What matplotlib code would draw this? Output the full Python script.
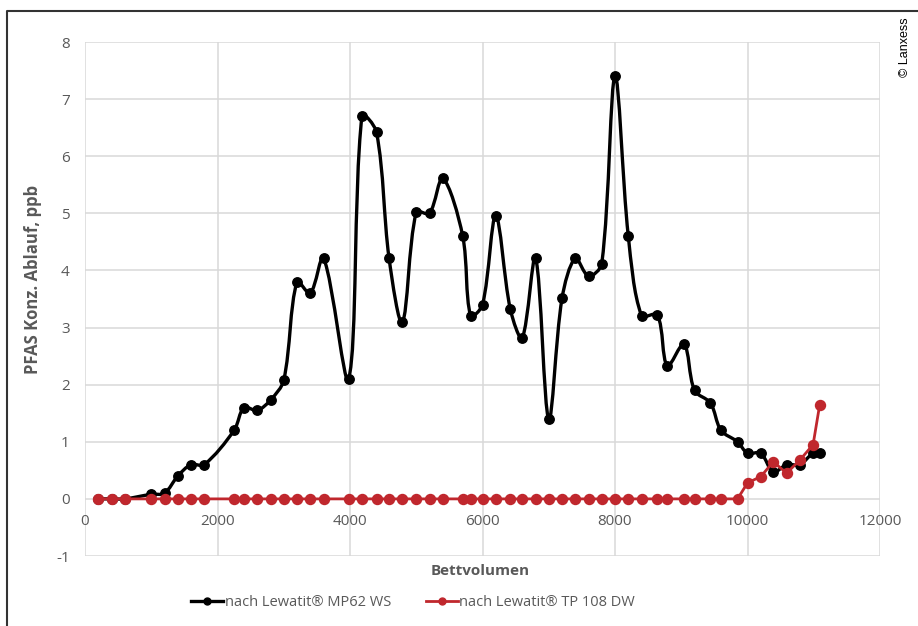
import numpy as np
import matplotlib.pyplot as plt
from matplotlib.path import Path
from matplotlib.patches import PathPatch
from matplotlib.lines import Line2D

# Bettvolumen (x) and PFAS concentrations (ppb)
bettvolumen = [200, 400, 600, 1000, 1200, 1400, 1600, 1800, 2250, 2400,
               2600, 2800, 3000, 3200, 3400, 3600, 3980, 4180, 4400, 4590,
               4790, 5000, 5200, 5400, 5700, 5820, 6000, 6200, 6420, 6600,
               6800, 7000, 7200, 7400, 7600, 7800, 8000, 8200, 8400, 8640,
               8790, 9040, 9200, 9440, 9600, 9850, 10000, 10200, 10390, 10590,
               10790, 10990, 11090]

mp62_ws = [0, 0, 0, 0.08, 0.1, 0.4, 0.6, 0.6, 1.2, 1.6,
           1.55, 1.73, 2.08, 3.8, 3.6, 4.22, 2.1, 6.7, 6.42, 4.21,
           3.09, 5.02, 5.0, 5.61, 4.61, 3.21, 3.4, 4.95, 3.32, 2.82,
           4.22, 1.4, 3.51, 4.21, 3.9, 4.12, 7.4, 4.61, 3.21, 3.22,
           2.33, 2.71, 1.9, 1.68, 1.2, 1.0, 0.8, 0.8, 0.47, 0.6,
           0.6, 0.8, 0.8]

tp108_dw = [0] * 46 + [0.28, 0.39, 0.65, 0.45, 0.68, 0.95, 1.65]

label_mp62 = "nach Lewatit\u00ae MP62 WS"
label_tp108 = "nach Lewatit\u00ae TP 108 DW"

black = "#000000"
red = "#c0272d"
grey_txt = "#595959"
grid_col = "#d9d9d9"

plt.rcParams['font.family'] = ['Open Sans', 'DejaVu Sans']
plt.rcParams['axes.unicode_minus'] = False


def smooth_path(x, y, sx, sy):
    # Excel-like smoothed line: Bezier segments, tangents weighted by
    # segment length on screen (sx, sy = pixels per data unit)
    pts = np.column_stack([x, y]).astype(float)
    scr = pts * [sx, sy]
    n = len(pts)
    d = np.hypot(*np.diff(scr, axis=0).T)
    out_c = []
    in_c = []
    for i in range(n):
        if i == 0 or i == n - 1:
            out_c.append(pts[i])
            in_c.append(pts[i])
            continue
        t = pts[i + 1] - pts[i - 1]
        s = d[i - 1] + d[i]
        out_c.append(pts[i] + t * d[i] / s / 3)
        in_c.append(pts[i] - t * d[i - 1] / s / 3)
    verts = [pts[0]]
    codes = [Path.MOVETO]
    for i in range(n - 1):
        c1 = out_c[i] if i > 0 else pts[0] + (pts[1] - pts[0]) / 3
        c2 = in_c[i + 1] if i + 1 < n - 1 else pts[-1] - (pts[-1] - pts[-2]) / 3
        verts += [c1, c2, pts[i + 1]]
        codes += [Path.CURVE4] * 3
    return Path(verts, codes)


fig = plt.figure(figsize=(9.18, 6.26), dpi=100)
ax = fig.add_axes([85 / 918, 1 - 556 / 626, 795 / 918, 514 / 626])

ax.set_xlim(0, 12000)
ax.set_ylim(-1, 8)
ax.set_xticks(range(0, 12001, 2000))
ax.set_yticks(range(-1, 9))
ax.grid(True, color=grid_col, lw=1.1)
ax.set_axisbelow(True)
for s in ax.spines.values():
    s.set_visible(False)
ax.spines['bottom'].set_position(('data', 0))
ax.tick_params(length=0, labelsize=11, labelcolor=grey_txt)
ax.tick_params(axis='y', pad=11)
ax.tick_params(axis='x', pad=11)

# black series, smoothed
path = smooth_path(bettvolumen, mp62_ws, 795 / 12000, 514 / 9)
ax.add_patch(PathPatch(path, fill=False, edgecolor=black, lw=2.4, zorder=3))
ax.plot(bettvolumen, mp62_ws, ls='none', marker='o', ms=6.8, color=black, zorder=4)

# red series
ax.plot(bettvolumen, tp108_dw, color=red, lw=2, marker='o', ms=7.2, zorder=5)

fig.text(33 / 918, 1 - 279 / 626, "PFAS Konz. Ablauf, ppb", rotation=90,
         ha='center', va='center', fontsize=12, fontweight='bold', color=grey_txt)
fig.text(480 / 918, 1 - 571 / 626, "Bettvolumen", ha='center', va='center',
         fontsize=11, fontweight='bold', color=grey_txt)

handles = [Line2D([], [], color=black, lw=2.4, marker='o', ms=5),
           Line2D([], [], color=red, lw=2, marker='o', ms=5)]
leg = fig.legend(handles, [label_mp62, label_tp108], loc='center',
                 bbox_to_anchor=(413 / 918, 1 - 603 / 626), ncol=2, frameon=False,
                 fontsize=10.5, handlelength=2.2, handletextpad=0.1, columnspacing=2.4)
for t in leg.get_texts():
    t.set_color(grey_txt)

# outer frame (left and top)
fig.add_artist(Line2D([7 / 918, 7 / 918, 1], [0, 1 - 11 / 626, 1 - 11 / 626],
                      color="#333333", lw=1.5, transform=fig.transFigure))

fig.text(905 / 918, 1 - 47 / 626, "\u00a9 Lanxess", rotation=90, ha='center',
         va='center', fontsize=9, family='Liberation Sans', color=black)

fig.savefig("out.png", dpi=100)
